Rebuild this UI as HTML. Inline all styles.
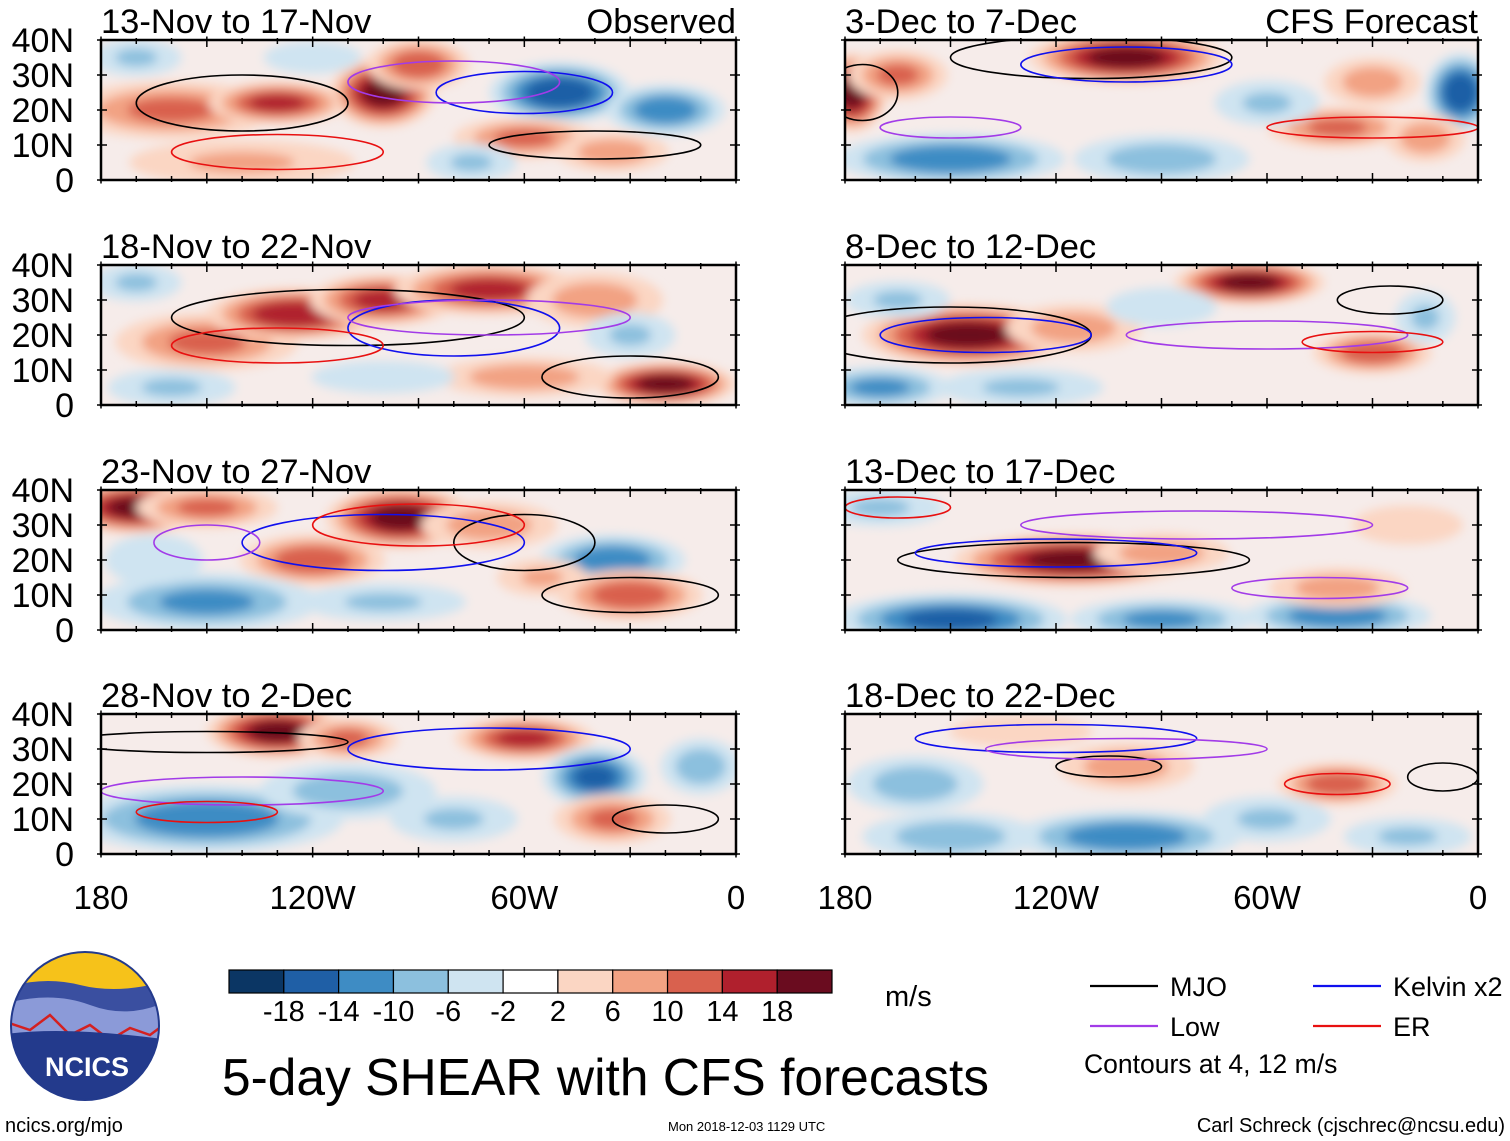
<!DOCTYPE html>
<html><head><meta charset="utf-8"><style>
body{margin:0;background:#fff;width:1510px;height:1141px;overflow:hidden;font-family:"Liberation Sans",sans-serif}
svg{position:absolute;left:0;top:0}
</style></head><body>
<svg id="fig" width="1510" height="1141" viewBox="0 0 1510 1141">
<defs>
<filter id="blur" x="-50%" y="-50%" width="200%" height="200%"><feGaussianBlur stdDeviation="5"/></filter>
</defs>
</svg>
<script>
// ---- data ----
const panelTitles = ["13-Nov to 17-Nov","18-Nov to 22-Nov","23-Nov to 27-Nov","28-Nov to 2-Dec","3-Dec to 7-Dec","8-Dec to 12-Dec","13-Dec to 17-Dec","18-Dec to 22-Dec"];
const latTicks = [40,30,20,10,0];
const latLabels = ["40N","30N","20N","10N","0"];
const lonTicks = [-180,-120,-60,0];
const lonLabels = ["180","120W","60W","0"];
const cbLevels = [-18,-14,-10,-6,-2,2,6,10,14,18];
const cbColors = ["#0b3664","#1f5fa6","#3e8cc4","#8cc0de","#cfe4f1","#ffffff","#fbd6c3","#f2a283","#d9614e","#b0202d","#6a0c1f"];
// shear anomaly blobs per panel: [lon, lat, value(m/s), lonRadius, latRadius]
const blobs = [
 [[-160,20,10,25,7],[-130,22,14,16,5],[-100,25,18,12,8],[-90,33,12,12,6],[-50,25,-16,16,7],[-20,20,-12,14,6],[-60,12,10,17,5],[-35,8,8,14,5],[-140,5,6,30,6],[-75,5,-6,12,5],[-170,35,-6,12,5],[-120,35,-4,15,5]],
 [[-150,18,10,22,7],[-125,26,16,20,6],[-100,30,14,17,6],[-70,33,14,22,6],[-40,30,8,17,7],[-20,6,18,16,5],[-60,8,8,22,5],[-160,5,-6,17,5],[-100,8,-4,22,5],[-30,20,-6,12,6],[-170,35,-6,12,5]],
 [[-170,35,18,16,6],[-150,35,10,17,5],[-95,32,18,17,7],[-120,20,12,17,6],[-70,30,8,17,6],[-35,20,-12,17,6],[-150,8,-10,27,7],[-100,8,-6,22,5],[-30,10,12,17,6],[-55,15,6,12,5],[-165,20,-4,15,8]],
 [[-130,35,18,16,6],[-110,33,10,12,5],[-60,33,14,16,5],[-150,10,-12,32,8],[-110,18,-8,22,7],[-40,22,-14,12,7],[-35,10,10,14,6],[-80,10,-6,17,6],[-10,25,-8,10,7]],
 [[-100,35,18,22,6],[-178,25,18,8,9],[-165,30,10,12,6],[-5,25,-16,8,9],[-40,15,10,17,5],[-15,12,8,10,6],[-150,6,-12,27,6],[-90,6,-8,22,6],[-60,22,-6,14,6],[-30,28,8,12,6]],
 [[-145,20,18,24,7],[-115,22,8,17,6],[-65,35,18,17,5],[-30,15,12,14,5],[-170,5,-10,17,5],[-90,28,-4,17,6],[-130,5,-6,22,5],[-165,30,-6,14,5],[-15,25,-6,8,7]],
 [[-115,20,18,27,6],[-90,22,8,17,5],[-150,3,-14,27,6],[-40,4,-12,22,5],[-40,12,8,17,5],[-90,3,-10,22,5],[-170,35,-6,17,5],[-20,30,4,17,6]],
 [[-100,25,8,17,6],[-40,20,12,14,5],[-100,5,-12,27,6],[-160,20,-8,17,7],[-150,5,-8,22,6],[-60,10,-6,17,6],[-20,5,-6,17,5],[-130,35,4,22,5]]
];
// contours: [type, lon, lat, lonRadius, latRadius]
const contours = [
 [["MJO",-140,22,30,8],["Kelvin",-60,25,25,6],["Low",-80,28,30,6],["ER",-130,8,30,5],["MJO",-40,10,30,4]],
 [["MJO",-110,25,50,8],["Kelvin",-80,22,30,8],["Low",-70,25,40,5],["ER",-130,17,30,5],["MJO",-30,8,25,6]],
 [["MJO",-60,25,20,8],["Kelvin",-100,25,40,8],["Low",-150,25,15,5],["ER",-90,30,30,6],["MJO",-30,10,25,5]],
 [["MJO",-150,32,40,3],["Kelvin",-70,30,40,6],["Low",-140,18,40,4],["ER",-150,12,20,3],["MJO",-20,10,15,4]],
 [["MJO",-110,35,40,6],["Kelvin",-100,33,30,5],["Low",-150,15,20,3],["ER",-30,15,30,3],["MJO",-175,25,10,8]],
 [["MJO",-150,20,40,8],["Kelvin",-140,20,30,5],["Low",-60,20,40,4],["ER",-30,18,20,3],["MJO",-25,30,15,4]],
 [["MJO",-115,20,50,5],["Kelvin",-120,22,40,4],["Low",-80,30,50,4],["ER",-165,35,15,3],["Low",-45,12,25,3]],
 [["MJO",-105,25,15,3],["Kelvin",-120,33,40,4],["Low",-100,30,40,3],["ER",-40,20,15,3],["MJO",-10,22,10,4]]
];
const legendItems = [["MJO","#000"],["Low","#a23be8"],["Kelvin x2","#1010ee"],["ER","#e81010"]];
// ---- helpers ----
const NS="http://www.w3.org/2000/svg";
const svg=document.getElementById('fig');
function mk(tag,attrs,parent){const e=document.createElementNS(NS,tag);for(const k in attrs)e.setAttribute(k,attrs[k]);(parent||svg).appendChild(e);return e;}
const colsX=[[101,736],[845,1478]];
const rowsY=[[40,180],[265,405],[490,630],[714,854]];
const lineColor={MJO:"#000",Kelvin:"#1010ee",Low:"#a23be8",ER:"#e81010"};
function colorFor(v){let i=0;while(i<cbLevels.length&&v>cbLevels[i])i++;return cbColors[i];}
function shades(v){const out=[];const s=Math.sign(v);for(let t=2;t<=Math.abs(v)+0.1;t+=4){out.push([s*(t+0.1),t/Math.abs(v)]);}return out;}

for(let p=0;p<8;p++){
 const c=p<4?0:1, r=p%4;
 const [x0,x1]=colsX[c],[y0,y1]=rowsY[r];
 const xs=lon=>x0+(lon+180)/180*(x1-x0);
 const ys=lat=>y1-lat/40*(y1-y0);
 const g=mk('g',{});
 
 
 const cid='clip'+p;
 const cp=mk('clipPath',{id:cid},g);mk('rect',{x:x0,y:y0,width:x1-x0,height:y1-y0},cp);
 const inner=mk('g',{'clip-path':'url(#'+cid+')'},g);
 mk('rect',{x:x0,y:y0,width:x1-x0,height:y1-y0,fill:'#f6ecea'},inner);
 const bl=mk('g',{filter:'url(#blur)'},inner);
 blobs[p].forEach(b=>{
  const [lon,lat,v,rl,ra]=b;
  shades(v).forEach(([lvl,frac])=>{
   const f=1.35-frac*0.85;
   const e=mk('ellipse',{cx:xs(lon),cy:ys(lat),rx:rl/180*(x1-x0)*f,ry:ra/40*(y1-y0)*f,fill:colorFor(lvl)},bl);
   
   
  });
 });
 contours[p].forEach(ct=>{
  const [t,lon,lat,rl,ra]=ct;
  const e=mk('ellipse',{cx:xs(lon),cy:ys(lat),rx:rl/180*(x1-x0),ry:ra/40*(y1-y0),fill:'none',stroke:lineColor[t],'stroke-width':1.6},inner);
  
  
 });
 mk('rect',{x:x0,y:y0,width:x1-x0,height:y1-y0,fill:'none',stroke:'#000','stroke-width':2.5},g);
 for(let lon=-180;lon<=0;lon+=10){
  const big=lon%30===0?7:4;
  mk('line',{x1:xs(lon),x2:xs(lon),y1:y0-big/2,y2:y0+big,stroke:'#000','stroke-width':1.5},g);
  mk('line',{x1:xs(lon),x2:xs(lon),y1:y1+big/2,y2:y1-big,stroke:'#000','stroke-width':1.5},g);
 }
 latTicks.forEach((lat,i)=>{
  mk('line',{x1:x0-4,x2:x0+6,y1:ys(lat),y2:ys(lat),stroke:'#000','stroke-width':1.5},g);
  mk('line',{x1:x1-6,x2:x1+4,y1:ys(lat),y2:ys(lat),stroke:'#000','stroke-width':1.5},g);
  if(c===0){const t=mk('text',{x:74,y:ys(lat)+12,'text-anchor':'end','font-size':34},g);t.textContent=latLabels[i];
   }
 });
 const tt=mk('text',{x:x0,y:y0-7,'font-size':34.5},g);tt.textContent=panelTitles[p];
 
 if(r===0){const s=mk('text',{x:x1,y:y0-7,'font-size':34.5,'text-anchor':'end'},g);s.textContent=c===0?'Observed':'CFS Forecast';
  }
 if(r===3){lonTicks.forEach((lon,i)=>{const t=mk('text',{x:xs(lon),y:909,'font-size':33,'text-anchor':'middle'},g);t.textContent=lonLabels[i];
  });}
}
// colorbar
const cb=mk('g',{});


const cbx0=229,cbx1=832,cbw=(cbx1-cbx0)/cbColors.length;
cbColors.forEach((col,i)=>{mk('rect',{x:cbx0+i*cbw,y:970,width:cbw,height:23,fill:col,stroke:'#000','stroke-width':1.2},cb);});
cbLevels.forEach((v,i)=>{const t=mk('text',{x:cbx0+(i+1)*cbw,y:1021,'font-size':29,'text-anchor':'middle'},cb);t.textContent=v;});
const ms=mk('text',{x:885,y:1006,'font-size':29},cb);ms.textContent='m/s';
// legend
const lg=mk('g',{});


const lpos=[[1090,986],[1090,1026],[1313,986],[1313,1026]];
legendItems.forEach((it,i)=>{
 const [lx,ly]=lpos[i];
 mk('line',{x1:lx,x2:lx+68,y1:ly,y2:ly,stroke:it[1],'stroke-width':2.2},lg);
 const t=mk('text',{x:lx+80,y:ly+10,'font-size':27},lg);t.textContent=it[0];
 
});
const cn=mk('text',{x:1084,y:1073,'font-size':26.5},lg);cn.textContent='Contours at 4, 12 m/s';
</script>
<svg width="1510" height="1141" style="pointer-events:none">
<g>
<clipPath id="lc"><circle cx="85" cy="1026" r="74"/></clipPath>
<g clip-path="url(#lc)">
<rect x="0" y="950" width="170" height="160" fill="#f6c21a"/>
<path d="M0 990 Q40 975 80 985 T170 980 L170 1110 L0 1110Z" fill="#3a4fa0"/>
<path d="M0 1005 Q50 990 90 1005 T170 1000 L170 1110 L0 1110Z" fill="#8b9ad8"/>
<path d="M0 1020 L30 1030 L50 1015 L70 1035 L90 1025 L110 1040 L130 1028 L150 1035 L170 1020" fill="none" stroke="#d42020" stroke-width="2.5"/>
<path d="M0 1035 Q60 1025 170 1040 L170 1110 L0 1110Z" fill="#233a8c"/>
</g>
<circle cx="85" cy="1026" r="74" fill="none" stroke="#233a8c" stroke-width="2"/>
<text x="87" y="1076" font-size="27" font-weight="bold" fill="#fff" text-anchor="middle" font-family="Liberation Sans, sans-serif">NCICS</text>
</g>
<text x="222" y="1095" font-size="51.5" font-family="Liberation Sans, sans-serif">5-day SHEAR with CFS forecasts</text>
<text x="5" y="1132" font-size="20" font-family="Liberation Sans, sans-serif">ncics.org/mjo</text>
<text x="668" y="1131" font-size="13" font-family="Liberation Sans, sans-serif">Mon 2018-12-03 1129 UTC</text>
<text x="1505" y="1132" font-size="20" text-anchor="end" font-family="Liberation Sans, sans-serif">Carl Schreck (cjschrec@ncsu.edu)</text>
</svg>
</body></html>
